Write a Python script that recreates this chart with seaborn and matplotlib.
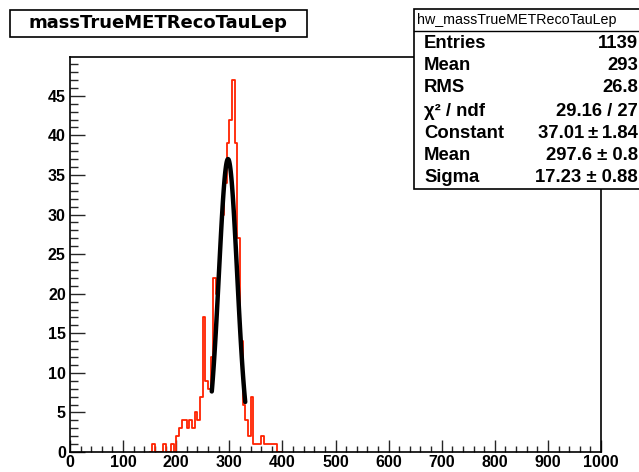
import numpy as np
import pandas as pd
import matplotlib
matplotlib.use("Agg")
import matplotlib.pyplot as plt
import seaborn as sns
from matplotlib.ticker import MultipleLocator
from matplotlib.patches import Rectangle

sns.set_theme(style="white")
plt.rcParams["font.family"] = ["Liberation Sans", "DejaVu Sans"]
WIDE = ["DejaVu Sans", "Liberation Sans"]

# histogram: 5 GeV bins starting at 150
bin_width = 5.0
first_edge = 150.0
counts = [
    0, 1, 0, 0, 0, 1, 0, 0, 1, 0,        # 150-195
    2, 3, 4, 4, 3, 4, 3, 5, 4, 7,        # 200-245
    17, 9, 8, 12, 22, 20, 25, 30, 34, 39,  # 250-295
    42, 47, 39, 27, 14, 6, 4, 2, 7, 1,   # 300-345
    1, 1, 2, 1, 1, 1, 1, 1, 0, 0,        # 350-395
]

# gaussian fit result
fit_constant = 37.01
fit_mean = 297.6
fit_sigma = 17.23
fit_range = (267.0, 330.0)

title = "massTrueMETRecoTauLep"
stats_name = "hw_massTrueMETRecoTauLep"
stats_labels = ["Entries", "Mean", "RMS", "χ² / ndf", "Constant", "Mean", "Sigma"]
stats_values = ["1139", "293", "26.8", "29.16 / 27",
                "37.01\u2009±\u20091.84", "297.6 ± 0.8", "17.23 ± 0.88"]

n_bins = len(counts)
last_edge = first_edge + bin_width * n_bins
centers = first_edge + bin_width * (np.arange(n_bins) + 0.5)
hist_df = pd.DataFrame({"mass": centers, "n": np.asarray(counts, dtype=float)})

xs = np.linspace(fit_range[0], fit_range[1], 100)
fit_df = pd.DataFrame({
    "mass": xs,
    "f": fit_constant * np.exp(-0.5 * ((xs - fit_mean) / fit_sigma) ** 2),
})

W, H = 639, 472
fig = plt.figure(figsize=(W / 100, H / 100), dpi=100)
fig.patch.set_facecolor("white")
ax = fig.add_axes([70 / W, 20 / H, 531 / W, 395 / H])
ax.set_facecolor("white")

sns.histplot(data=hist_df, x="mass", weights="n", binwidth=bin_width,
             binrange=(first_edge, last_edge), element="step",
             fill=False, color="#ff2200", linewidth=1.3, ax=ax)
sns.lineplot(data=fit_df, x="mass", y="f", color="black", linewidth=3.2, ax=ax)

ax.set_xlim(0, 1000)
ax.set_ylim(0, 49.9)
ax.set_xlabel("")
ax.set_ylabel("")

ax.xaxis.set_major_locator(MultipleLocator(100))
ax.xaxis.set_minor_locator(MultipleLocator(20))
ax.yaxis.set_major_locator(MultipleLocator(5))
ax.yaxis.set_minor_locator(MultipleLocator(1))
ax.tick_params(axis="x", which="major", direction="in", length=9, width=1.0,
               pad=2, labelsize=11.5, bottom=True, top=False)
ax.tick_params(axis="x", which="minor", direction="in", length=4.5, width=1.0,
               bottom=True, top=False)
ax.tick_params(axis="y", which="major", direction="in", length=11, width=1.0,
               pad=3, labelsize=11.5, left=True, right=False)
ax.tick_params(axis="y", which="minor", direction="in", length=5.5, width=1.0,
               left=True, right=False)
for lab in ax.get_xticklabels() + ax.get_yticklabels():
    lab.set_fontweight("bold")
    lab.set_color("black")
for sp in ax.spines.values():
    sp.set_visible(True)
    sp.set_color("black")
    sp.set_linewidth(1.2)

# title box
fig.patches.append(Rectangle((10 / W, 1 - 37 / H), 297 / W, 27 / H,
                             transform=fig.transFigure, facecolor="white",
                             edgecolor="black", linewidth=1.2))
fig.text(158 / W, 1 - 23.5 / H, title, ha="center", va="center",
         fontsize=13, fontweight="bold", color="black", family=WIDE)

# statistics box
box_l, box_t, box_b = 414, 9, 189
fig.patches.append(Rectangle((box_l / W, 1 - box_b / H), (W + 5 - box_l) / W,
                             (box_b - box_t) / H, transform=fig.transFigure,
                             facecolor="white", edgecolor="black",
                             linewidth=1.2, zorder=5))
fig.add_artist(plt.Line2D([box_l / W, 1], [1 - 31 / H, 1 - 31 / H],
                          transform=fig.transFigure, color="black",
                          linewidth=1.0, zorder=6))
fig.text(417 / W, 1 - 20 / H, stats_name, ha="left", va="center",
         fontsize=10.3, color="black", zorder=7)
row_y = [43, 66, 88, 111, 133, 155, 177]
for lab, val, y in zip(stats_labels, stats_values, row_y):
    fig.text(424 / W, 1 - y / H, lab, ha="left", va="center",
             fontsize=13.3, fontweight="bold", color="black", zorder=7)
    fig.text(638 / W, 1 - y / H, val, ha="right", va="center",
             fontsize=13.3, fontweight="bold", color="black", zorder=7)

fig.savefig("out.png", dpi=100, facecolor="white")
